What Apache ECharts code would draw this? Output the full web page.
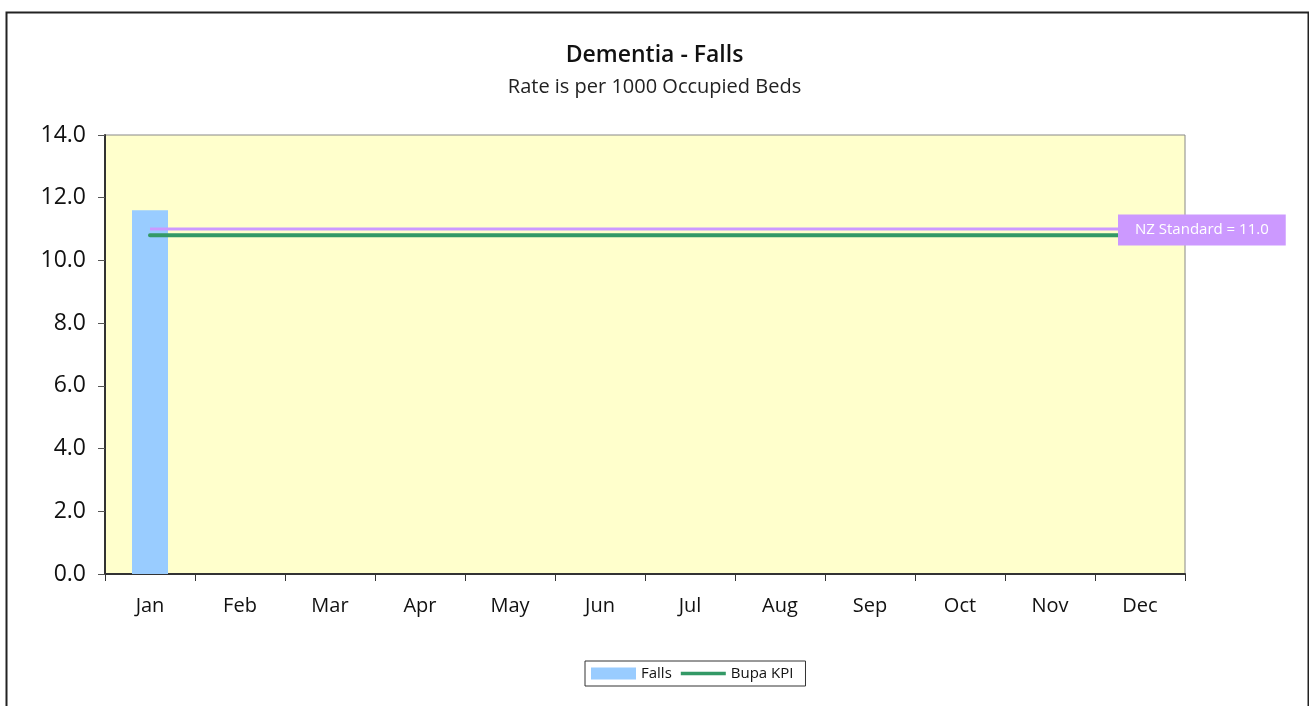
<!DOCTYPE html>
<html>
<head>
<meta charset="utf-8">
<script src="https://cdn.jsdelivr.net/npm/echarts@6/dist/echarts.min.js"></script>
<style>
html,body{margin:0;padding:0;background:#fff;}
#main{width:1309px;height:706px;}
</style>
</head>
<body>
<div id="main"></div>
<script>
const months = ['Jan','Feb','Mar','Apr','May','Jun','Jul','Aug','Sep','Oct','Nov','Dec'];
const falls = [11.6, null, null, null, null, null, null, null, null, null, null, null];
const bupaKPI = [10.8, 10.8, 10.8, 10.8, 10.8, 10.8, 10.8, 10.8, 10.8, 10.8, 10.8, 10.8];
const nzStandard = [11.0, 11.0, 11.0, 11.0, 11.0, 11.0, 11.0, 11.0, 11.0, 11.0, 11.0, 11.0];
const yTicks = {min: 0, max: 14, interval: 2};

const FONT = 'Open Sans';
const chart = echarts.init(document.getElementById('main'));
chart.setOption({
  animation: false,
  textStyle: {fontFamily: FONT},
  graphic: [{
    type: 'rect', left: 4, top: 10, silent: true,
    shape: {x: 0, y: 0, width: 1302, height: 720},
    style: {fill: 'none', stroke: '#222', lineWidth: 2}
  }],
  title: {
    text: 'Dementia - Falls',
    subtext: 'Rate is per 1000 Occupied Beds',
    left: 'center', top: 39, itemGap: 10,
    textStyle: {fontFamily: FONT, fontSize: 23, fontWeight: 600, color: '#111'},
    subtextStyle: {fontFamily: FONT, fontSize: 20, color: '#222'}
  },
  legend: {
    left: 585, top: 661,
    padding: [5, 12, 5, 6],
    borderColor: '#333', borderWidth: 1,
    itemWidth: 45, itemHeight: 12, itemGap: 9,
    textStyle: {fontFamily: FONT, fontSize: 15, color: '#111', padding: [0, 0, 0, 0]},
    data: [
      {name: 'Falls', icon: 'rect'},
      {name: 'Bupa KPI', icon: 'path://M0,0 L0,0.01 M0,4.3 L45,4.3 L45,7.7 L0,7.7 Z M45,12 L45,11.99'}
    ]
  },
  grid: {
    left: 105, top: 135, width: 1080, height: 439,
    show: true, backgroundColor: '#ffffcc', borderColor: '#888', borderWidth: 1
  },
  xAxis: {
    type: 'category', data: months, boundaryGap: true,
    axisLine: {lineStyle: {color: '#333', width: 2}},
    axisTick: {show: true, length: 7, lineStyle: {color: '#333'}},
    axisLabel: {fontFamily: FONT, fontSize: 20, color: '#111', margin: 22}
  },
  yAxis: {
    type: 'value', min: yTicks.min, max: yTicks.max, interval: yTicks.interval,
    axisLine: {show: true, lineStyle: {color: '#333', width: 2}},
    axisTick: {show: true, length: 7, lineStyle: {color: '#555'}},
    splitLine: {show: false},
    axisLabel: {fontFamily: FONT, fontSize: 23, color: '#111', margin: 19,
      formatter: v => v.toFixed(1)}
  },
  series: [
    {
      name: 'Falls', type: 'bar', data: falls, barWidth: '40%',
      itemStyle: {color: '#99ccff'}, z: 2
    },
    {
      name: 'Bupa KPI', type: 'line', data: bupaKPI,
      showSymbol: false, symbol: 'none',
      lineStyle: {color: '#339966', width: 4, cap: 'round'},
      itemStyle: {color: '#339966'},
      z: 4
    },
    {
      name: 'NZ Standard', type: 'line', data: nzStandard,
      showSymbol: false, symbol: 'none',
      lineStyle: {color: '#cc99ff', width: 3},
      z: 5,
      endLabel: {
        show: true, formatter: 'NZ Standard = 11.0',
        distance: 0, offset: [-22, 1],
        color: '#fff', fontFamily: FONT, fontSize: 15,
        backgroundColor: '#cc99ff', padding: [8, 17, 8, 17]
      }
    }
  ]
});
</script>
</body>
</html>
